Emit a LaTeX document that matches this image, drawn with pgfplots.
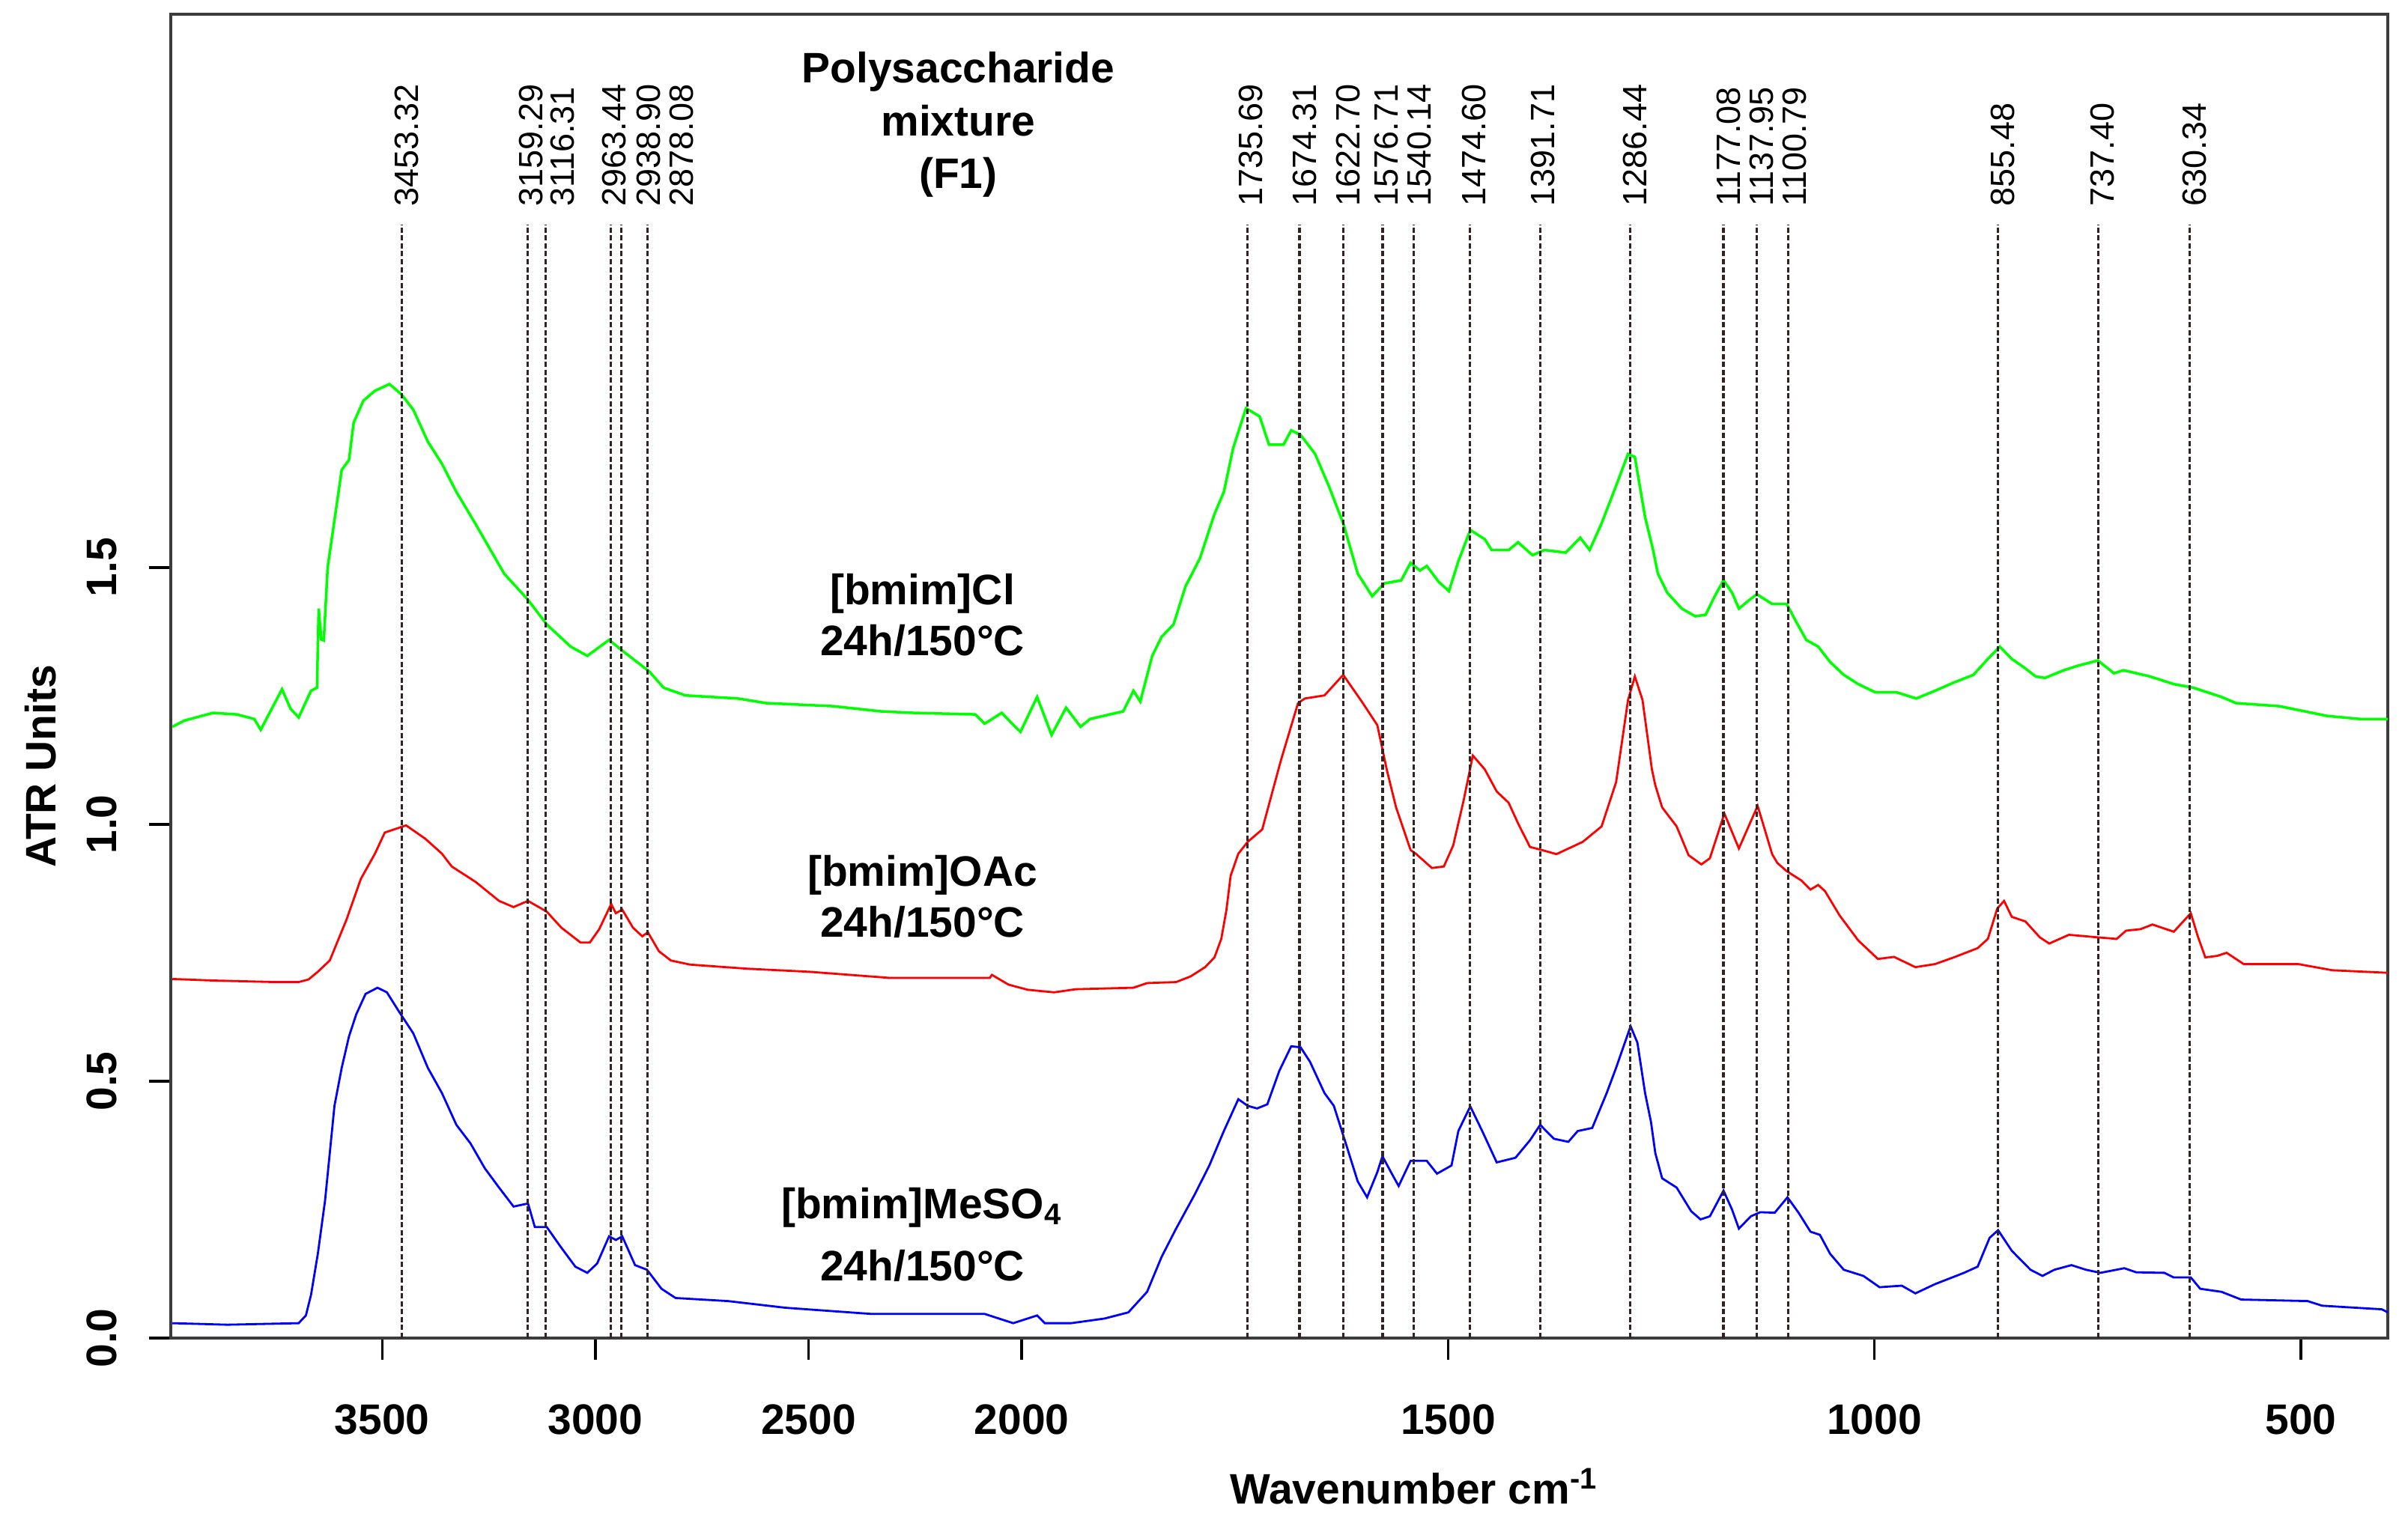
\documentclass[border=0pt]{standalone}
\usepackage{pgfplots}
\pgfplotsset{compat=1.18}
\usepackage{pgfplotstable}
\usepackage{fontspec}
\setmainfont{Liberation Sans}
\definecolor{vline}{RGB}{50,35,35}
\definecolor{axgray}{RGB}{60,60,60}

\pgfplotstableread{
w a
3992 1.190
3964 1.202
3897 1.217
3841 1.214
3800 1.205
3785 1.184
3768 1.211
3735 1.263
3715 1.225
3696 1.208
3667 1.260
3653 1.266
3649 1.420
3643 1.360
3637 1.358
3628 1.500
3612 1.592
3595 1.690
3578 1.709
3567 1.782
3544 1.825
3517 1.844
3483 1.857
3455 1.837
3427 1.807
3393 1.745
3360 1.702
3326 1.647
3282 1.586
3248 1.537
3214 1.488
3159 1.438
3114 1.389
3058 1.346
3019 1.328
2968 1.359
2935 1.337
2873 1.297
2840 1.266
2789 1.251
2666 1.245
2599 1.236
2442 1.230
2331 1.220
2254 1.217
2109 1.214
2087 1.196
2047 1.217
2019 1.193
2003 1.180
1982 1.248
1965 1.174
1948 1.227
1931 1.190
1920 1.205
1881 1.220
1869 1.260
1861 1.239
1847 1.328
1836 1.365
1822 1.389
1808 1.463
1791 1.518
1774 1.604
1763 1.647
1752 1.733
1737 1.810
1721 1.794
1710 1.739
1693 1.739
1684 1.767
1673 1.758
1656 1.721
1640 1.659
1623 1.586
1606 1.488
1589 1.444
1575 1.469
1555 1.475
1544 1.509
1533 1.494
1525 1.503
1511 1.472
1499 1.454
1488 1.512
1474 1.573
1457 1.555
1449 1.534
1429 1.534
1418 1.549
1401 1.524
1387 1.534
1362 1.529
1345 1.558
1334 1.534
1320 1.586
1303 1.659
1289 1.721
1281 1.715
1269 1.598
1260 1.537
1254 1.488
1243 1.451
1226 1.420
1210 1.405
1198 1.408
1187 1.445
1177 1.475
1167 1.451
1159 1.420
1148 1.435
1138 1.448
1120 1.429
1103 1.429
1092 1.395
1080 1.359
1066 1.346
1052 1.316
1036 1.291
1019 1.273
999 1.257
974 1.257
951 1.245
929 1.260
907 1.276
884 1.291
867 1.322
853 1.346
839 1.322
825 1.306
811 1.288
800 1.285
778 1.300
761 1.309
738 1.319
719 1.294
708 1.300
677 1.288
649 1.273
626 1.266
593 1.248
576 1.236
525 1.230
469 1.211
430 1.205
398 1.205
}\cltab

\pgfplotstableread{
w a
3992 0.699
3897 0.696
3751 0.693
3696 0.693
3673 0.698
3651 0.713
3623 0.735
3584 0.814
3550 0.894
3517 0.943
3494 0.984
3444 0.998
3399 0.972
3360 0.943
3337 0.918
3281 0.888
3226 0.851
3192 0.839
3158 0.851
3114 0.830
3080 0.799
3035 0.770
3013 0.770
2991 0.796
2963 0.845
2952 0.827
2937 0.834
2912 0.799
2890 0.782
2877 0.790
2851 0.753
2823 0.735
2778 0.727
2644 0.719
2498 0.713
2308 0.701
2254 0.701
2075 0.701
2070 0.707
2031 0.688
1993 0.678
1962 0.673
1937 0.679
1869 0.682
1853 0.691
1819 0.693
1802 0.704
1785 0.722
1774 0.741
1766 0.777
1760 0.833
1755 0.900
1746 0.943
1735 0.966
1718 0.990
1696 1.125
1676 1.236
1668 1.245
1645 1.251
1623 1.291
1600 1.236
1583 1.193
1572 1.107
1561 1.033
1544 0.950
1538 0.943
1519 0.915
1505 0.918
1494 0.959
1482 1.045
1471 1.134
1457 1.107
1443 1.064
1429 1.042
1418 1.002
1404 0.956
1390 0.950
1373 0.942
1342 0.966
1320 0.996
1303 1.082
1289 1.242
1281 1.288
1272 1.242
1261 1.107
1257 1.076
1249 1.033
1232 0.996
1218 0.940
1203 0.922
1193 0.934
1176 1.021
1159 0.953
1137 1.036
1120 0.942
1114 0.925
1103 0.909
1086 0.891
1075 0.873
1066 0.882
1058 0.870
1041 0.823
1019 0.774
996 0.738
977 0.742
952 0.722
929 0.728
907 0.741
879 0.759
867 0.777
856 0.836
848 0.851
839 0.820
823 0.811
806 0.780
795 0.768
772 0.785
738 0.780
716 0.777
705 0.793
688 0.796
674 0.805
649 0.791
629 0.827
621 0.783
612 0.741
598 0.744
587 0.750
567 0.728
503 0.728
463 0.716
398 0.711
}\oactab

\pgfplotstableread{
w a
3992 0.029
3863 0.026
3696 0.029
3679 0.044
3667 0.084
3651 0.164
3634 0.268
3623 0.360
3612 0.452
3595 0.526
3578 0.587
3561 0.630
3539 0.670
3511 0.682
3489 0.673
3461 0.636
3427 0.593
3393 0.526
3360 0.477
3326 0.415
3293 0.379
3259 0.330
3226 0.293
3192 0.256
3158 0.262
3142 0.216
3114 0.216
3080 0.176
3047 0.139
3019 0.127
2996 0.145
2968 0.198
2952 0.191
2937 0.198
2907 0.142
2879 0.133
2845 0.096
2812 0.078
2689 0.072
2554 0.059
2353 0.047
2254 0.047
2087 0.047
2020 0.029
1982 0.044
1973 0.029
1942 0.029
1903 0.038
1875 0.050
1853 0.090
1836 0.158
1819 0.213
1797 0.280
1780 0.336
1763 0.403
1746 0.465
1735 0.452
1724 0.447
1712 0.455
1698 0.520
1684 0.568
1673 0.566
1662 0.538
1645 0.477
1634 0.452
1620 0.379
1606 0.305
1595 0.274
1583 0.323
1577 0.354
1567 0.323
1558 0.296
1544 0.345
1525 0.345
1513 0.320
1496 0.336
1488 0.403
1474 0.451
1460 0.403
1443 0.342
1421 0.351
1404 0.385
1392 0.415
1376 0.388
1359 0.382
1348 0.403
1331 0.409
1314 0.477
1303 0.526
1286 0.607
1278 0.575
1269 0.477
1262 0.420
1257 0.360
1249 0.311
1232 0.293
1215 0.247
1204 0.231
1193 0.237
1177 0.287
1167 0.250
1159 0.213
1145 0.237
1134 0.245
1117 0.244
1102 0.274
1089 0.244
1075 0.207
1064 0.201
1052 0.164
1036 0.133
1013 0.121
994 0.099
968 0.102
952 0.087
929 0.105
895 0.127
879 0.139
865 0.195
855 0.210
839 0.170
817 0.133
803 0.121
789 0.133
769 0.142
752 0.133
735 0.127
707 0.136
693 0.128
660 0.127
649 0.118
629 0.118
618 0.096
593 0.090
570 0.075
492 0.072
475 0.063
405 0.056
398 0.050
}\mesotab

\begin{document}
\begin{tikzpicture}[
  peak/.style={rotate=90, anchor=west, inner sep=0pt, font=\fontsize{6.4}{7}\selectfont},
  lab/.style={anchor=base, inner sep=0pt, font=\fontsize{8.1}{10}\selectfont\bfseries},
]
\begin{axis}[
  scale only axis, width=14.8cm, height=8.84cm,
  x coord trafo/.code={\pgfmathparse{#1>=2000 ? #1 : 2*#1-2000}},
  x coord inv trafo/.code={\pgfmathparse{#1>=2000 ? #1 : (#1+2000)/2}},
  x dir=reverse,
  xmin=398, xmax=3996, ymin=0, ymax=2.577,
  xtick={3500,3000,2500,2000,1500,1000,500},
  xticklabels={3500,3000,2500,2000,1500,1000,500},
  ytick={0,0.5,1,1.5}, yticklabels={0.0,0.5,1.0,1.5},
  xtick pos=left, ytick pos=left,
  tick align=outside, major tick length=0.145cm,
  axis line style={axgray, line width=0.55pt},
  every tick/.style={black, line width=0.5pt},
  tick label style={font=\fontsize{8.1}{10}\selectfont\bfseries},
  xticklabel style={anchor=north, inner sep=0pt},
  xticklabel shift=0.29cm,
  yticklabel style={rotate=90, anchor=south, inner sep=0pt},
  yticklabel shift=0.205cm,
  xlabel={Wavenumber cm\textsuperscript{-1}},
  xlabel style={at={(axis description cs:0.4774,-0.125)}, anchor=base west, inner sep=0pt, font=\fontsize{8.1}{10}\selectfont\bfseries},
  ylabel={ATR Units},
  ylabel style={at={(axis description cs:-0.0517,0.432)}, anchor=base, inner sep=0pt, font=\fontsize{8.1}{10}\selectfont\bfseries},
]
\addplot[green, line width=0.5pt] table[x=w, y=a] {\cltab};
\addplot[red, line width=0.4pt] table[x=w, y=a] {\oactab};
\addplot[blue, line width=0.4pt] table[x=w, y=a] {\mesotab};

\pgfplotsinvokeforeach{3453.32,3159.29,3116.31,2963.44,2938.90,2878.08,1735.69,1674.31,1622.70,1576.71,1540.14,1474.60,1391.71,1286.44,1177.08,1137.95,1100.79,855.48,737.40,630.34}{
  \addplot[vline, line width=0.45pt, dash pattern=on 1.0pt off 0.5pt] coordinates {(#1,0) (#1,2.168)};
}

\node[peak] at (axis cs:3442,2.201) {3453.32};
\node[peak] at (axis cs:3151,2.201) {3159.29};
\node[peak] at (axis cs:3077,2.201) {3116.31};
\node[peak] at (axis cs:2956,2.201) {2963.44};
\node[peak] at (axis cs:2875,2.201) {2938.90};
\node[peak] at (axis cs:2798,2.201) {2878.08};
\node[peak] at (axis cs:1731,2.201) {1735.69};
\node[peak] at (axis cs:1668.4,2.201) {1674.31};
\node[peak] at (axis cs:1617.4,2.201) {1622.70};
\node[peak] at (axis cs:1572.6,2.201) {1576.71};
\node[peak] at (axis cs:1533.9,2.201) {1540.14};
\node[peak] at (axis cs:1469.7,2.201) {1474.60};
\node[peak] at (axis cs:1388.7,2.201) {1391.71};
\node[peak] at (axis cs:1280.6,2.201) {1286.44};
\node[peak] at (axis cs:1170.6,2.201) {1177.08};
\node[peak] at (axis cs:1131.9,2.201) {1137.95};
\node[peak] at (axis cs:1094.1,2.201) {1100.79};
\node[peak] at (axis cs:849.6,2.201) {855.48};
\node[peak] at (axis cs:732.6,2.201) {737.40};
\node[peak] at (axis cs:624.4,2.201) {630.34};

\node[lab] at (axis cs:2149,2.443) {Polysaccharide};
\node[lab] at (axis cs:2149,2.340) {mixture};
\node[lab] at (axis cs:2149,2.238) {(F1)};

\node[lab] at (axis cs:2233,1.427) {[bmim]Cl};
\node[lab] at (axis cs:2233,1.328) {24h/150°C};
\node[lab] at (axis cs:2233,0.879) {[bmim]OAc};
\node[lab] at (axis cs:2233,0.781) {24h/150°C};
\node[lab] at (axis cs:2233,0.232) {[bmim]MeSO\textsubscript{4}};
\node[lab] at (axis cs:2233,0.112) {24h/150°C};

\coordinate (SW) at (rel axis cs:0,0);
\coordinate (NE) at (rel axis cs:1,1);
\end{axis}
\path ([shift={(-1.14cm,-1.23cm)}]SW) rectangle ([shift={(0.135cm,0.095cm)}]NE);
\end{tikzpicture}
\end{document}
